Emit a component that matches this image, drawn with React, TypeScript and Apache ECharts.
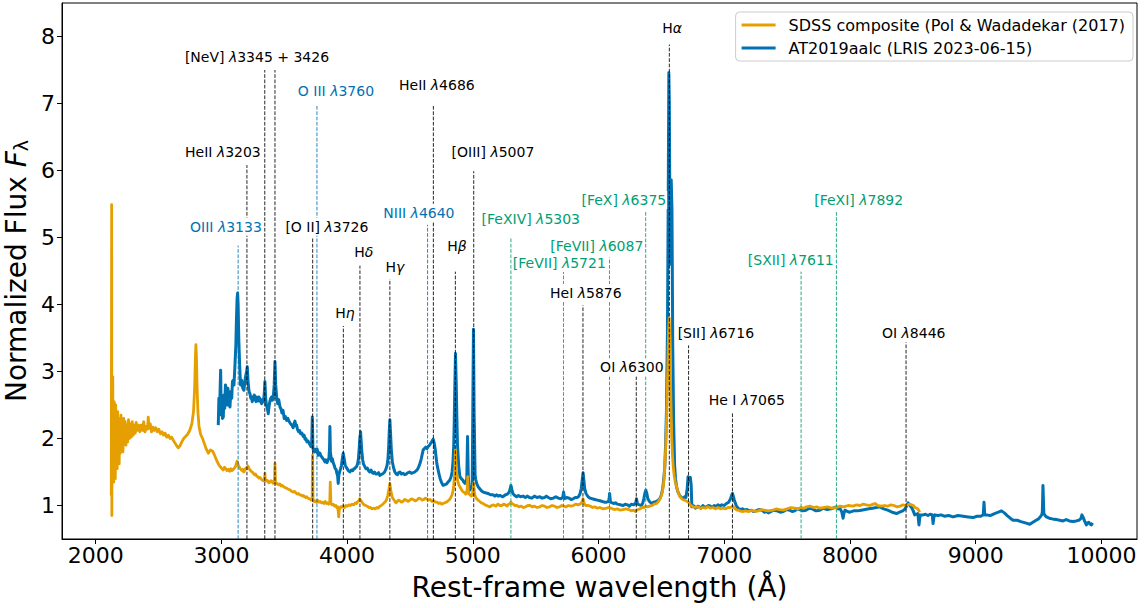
import { useEffect, useRef } from "react";
import * as echarts from "echarts";

const FONT = "DejaVu Sans";

// Axis ranges and tick values
const X_MIN = 1732;
const X_MAX = 10283;
const Y_MIN = 0.5;
const Y_MAX = 8.5;
const xTicks = [2000, 3000, 4000, 5000, 6000, 7000, 8000, 9000, 10000];
const yTicks = [1, 2, 3, 4, 5, 6, 7, 8];

// SDSS quasar composite, [rest-frame wavelength (Å), normalized flux]
const sdssComposite: [number, number][] = [
  [2124, 1.15], [2127, 5.49], [2128.5, 0.85], [2131, 2.6], [2134, 1.7], [2136, 2.92], [2138, 1.45], [2141, 2.45],
  [2144, 1.35], [2147, 2.55], [2150, 1.5], [2153, 2.3], [2156, 1.4], [2159, 2.5], [2163, 1.62], [2167, 2.35],
  [2171, 1.55], [2175, 2.4], [2179, 1.7], [2183, 2.3], [2187, 1.62], [2191, 2.28], [2196, 1.78], [2201, 2.35],
  [2206, 1.85], [2211, 2.22], [2217, 1.8], [2223, 2.3], [2229, 1.92], [2235, 2.25], [2241, 1.9], [2247, 2.2],
  [2254, 1.95], [2261, 2.28], [2268, 2.0], [2275, 2.22], [2283, 2.02], [2291, 2.25], [2299, 2.05], [2307, 2.2],
  [2315, 2.08], [2322, 2.24], [2330, 2.12], [2340, 2.2], [2350, 2.1], [2360, 2.2], [2372, 2.12], [2382, 2.25],
  [2392, 2.1], [2404, 2.18], [2412, 2.14], [2418, 2.32], [2424, 2.15], [2434, 2.22], [2444, 2.1], [2455, 2.17],
  [2466, 2.12], [2478, 2.16], [2490, 2.1], [2502, 2.14], [2515, 2.07], [2528, 2.1], [2540, 2.05], [2552, 2.08],
  [2565, 2.02], [2578, 2.05], [2591, 2.0], [2604, 2.02], [2618, 1.97], [2632, 1.93], [2645, 1.89], [2657, 1.86],
  [2670, 1.89], [2685, 1.95], [2700, 2.0], [2715, 2.03], [2730, 2.06], [2748, 2.12], [2765, 2.22], [2778, 2.4],
  [2787, 2.75], [2793, 3.2], [2797, 3.4], [2801, 3.25], [2806, 2.8], [2813, 2.4], [2822, 2.18], [2835, 2.06],
  [2850, 2.0], [2865, 1.92], [2880, 1.84], [2896, 1.78], [2912, 1.83], [2930, 1.81], [2948, 1.74], [2965, 1.66],
  [2982, 1.6], [3000, 1.56], [3015, 1.53], [3025, 1.57], [3035, 1.55], [3045, 1.52], [3055, 1.54], [3065, 1.51],
  [3075, 1.55], [3085, 1.52], [3095, 1.54], [3104, 1.56], [3112, 1.58], [3124, 1.66], [3135, 1.6], [3143, 1.57],
  [3150, 1.55], [3158, 1.53], [3165, 1.52], [3172, 1.54], [3178, 1.5], [3187, 1.53], [3195, 1.56], [3204, 1.55],
  [3212, 1.59], [3220, 1.55], [3228, 1.53], [3237, 1.51], [3245, 1.5], [3254, 1.48], [3262, 1.46], [3271, 1.47],
  [3280, 1.44], [3289, 1.43], [3298, 1.41], [3306, 1.42], [3315, 1.4], [3324, 1.38], [3334, 1.37], [3342, 1.38],
  [3346, 1.48], [3350, 1.36], [3359, 1.38], [3368, 1.37], [3376, 1.34], [3385, 1.35], [3394, 1.37], [3402, 1.36],
  [3410, 1.33], [3418, 1.34], [3423, 1.4], [3426, 1.63], [3430, 1.35], [3437, 1.32], [3445, 1.33], [3455, 1.31],
  [3465, 1.32], [3475, 1.29], [3485, 1.3], [3495, 1.28], [3505, 1.27], [3515, 1.26], [3525, 1.25], [3537, 1.24],
  [3548, 1.23], [3560, 1.21], [3571, 1.2], [3582, 1.21], [3592, 1.19], [3602, 1.17], [3612, 1.18], [3622, 1.16],
  [3632, 1.16], [3642, 1.14], [3652, 1.15], [3661, 1.13], [3670, 1.12], [3679, 1.13], [3688, 1.11], [3697, 1.1],
  [3706, 1.1], [3714, 1.08], [3722, 1.09], [3725, 1.75], [3729, 1.08], [3737, 1.06], [3745, 1.07], [3755, 1.05],
  [3765, 1.08], [3775, 1.05], [3785, 1.06], [3795, 1.04], [3805, 1.05], [3815, 1.03], [3825, 1.06], [3835, 1.03],
  [3845, 1.04], [3853, 1.02], [3862, 1.05], [3866, 1.35], [3871, 1.03], [3880, 1.01], [3890, 1.02], [3900, 0.99],
  [3910, 1.0], [3918, 0.97], [3925, 0.98], [3930, 0.9], [3933, 0.83], [3937, 0.92], [3940, 0.96], [3948, 0.98],
  [3955, 0.97], [3962, 0.99], [3970, 0.99], [3980, 0.97], [3990, 1.0], [4002, 0.99], [4015, 1.01], [4027, 1.0],
  [4040, 1.02], [4052, 1.01], [4065, 1.04], [4075, 1.03], [4085, 1.06], [4094, 1.07], [4100, 1.1], [4107, 1.08],
  [4115, 1.06], [4125, 1.03], [4135, 1.01], [4148, 1.0], [4160, 0.99], [4172, 0.97], [4185, 0.97], [4196, 0.95],
  [4208, 0.96], [4222, 0.95], [4235, 0.97], [4248, 0.96], [4260, 0.99], [4272, 1.0], [4285, 1.02], [4295, 1.04],
  [4305, 1.06], [4314, 1.09], [4322, 1.14], [4333, 1.25], [4340, 1.33], [4348, 1.22], [4360, 1.12], [4370, 1.09],
  [4378, 1.07], [4387, 1.04], [4395, 1.05], [4408, 1.08], [4420, 1.07], [4432, 1.05], [4445, 1.06], [4458, 1.09],
  [4470, 1.08], [4485, 1.06], [4499, 1.08], [4512, 1.1], [4525, 1.09], [4540, 1.07], [4555, 1.08], [4570, 1.11],
  [4585, 1.1], [4597, 1.08], [4610, 1.09], [4620, 1.11], [4632, 1.1], [4646, 1.08], [4660, 1.09], [4675, 1.06],
  [4690, 1.07], [4702, 1.05], [4715, 1.05], [4728, 1.03], [4740, 1.04], [4752, 1.02], [4764, 1.03], [4777, 1.04],
  [4790, 1.05], [4803, 1.07], [4815, 1.09], [4825, 1.12], [4835, 1.16], [4842, 1.22], [4848, 1.3], [4856, 1.5],
  [4862, 1.83], [4868, 1.55], [4878, 1.38], [4888, 1.31], [4897, 1.28], [4906, 1.25], [4915, 1.22], [4925, 1.2],
  [4935, 1.19], [4943, 1.17], [4950, 1.18], [4955, 1.25], [4959, 1.43], [4963, 1.22], [4970, 1.17], [4978, 1.16],
  [4987, 1.14], [4995, 1.15], [5003, 1.25], [5007, 1.33], [5012, 1.2], [5020, 1.13], [5030, 1.1], [5042, 1.08],
  [5055, 1.06], [5068, 1.04], [5082, 1.03], [5096, 1.01], [5110, 1.0], [5122, 0.99], [5135, 0.98], [5150, 1.0],
  [5165, 1.01], [5182, 0.99], [5200, 1.02], [5215, 1.0], [5230, 1.0], [5245, 1.02], [5260, 1.01], [5272, 0.99],
  [5285, 1.02], [5295, 1.03], [5303, 1.05], [5311, 1.03], [5320, 1.02], [5335, 1.0], [5350, 1.0], [5367, 0.98],
  [5385, 0.99], [5402, 0.97], [5420, 0.98], [5437, 1.0], [5455, 1.0], [5472, 0.98], [5490, 0.99], [5511, 0.97],
  [5533, 0.98], [5552, 1.0], [5570, 0.99], [5590, 0.97], [5610, 0.98], [5630, 1.0], [5650, 0.99], [5670, 0.97],
  [5690, 0.98], [5707, 1.0], [5724, 0.99], [5742, 0.98], [5760, 1.0], [5780, 0.99], [5800, 1.0], [5818, 1.02],
  [5835, 1.01], [5850, 1.02], [5860, 1.03], [5870, 1.06], [5877, 1.1], [5884, 1.04], [5892, 1.01], [5900, 1.0],
  [5918, 1.0], [5935, 0.99], [5952, 0.97], [5970, 0.98], [5990, 0.96], [6010, 0.97], [6036, 0.95], [6063, 0.96],
  [6082, 0.97], [6100, 0.96], [6125, 0.94], [6150, 0.95], [6172, 0.93], [6195, 0.94], [6218, 0.95], [6240, 0.94],
  [6260, 0.92], [6280, 0.93], [6292, 0.91], [6302, 0.93], [6316, 0.94], [6330, 0.95], [6345, 0.97], [6360, 0.97],
  [6375, 0.99], [6390, 0.98], [6408, 0.99], [6425, 1.0], [6443, 1.02], [6461, 1.03], [6476, 1.06], [6490, 1.1],
  [6502, 1.16], [6512, 1.25], [6520, 1.38], [6527, 1.58], [6534, 1.85], [6540, 2.2], [6550, 3.0], [6557, 3.6],
  [6562, 3.8], [6567, 3.5], [6574, 2.7], [6582, 2.0], [6588, 1.75], [6594, 1.58], [6602, 1.44], [6610, 1.35],
  [6625, 1.25], [6636, 1.18], [6647, 1.13], [6658, 1.11], [6670, 1.09], [6683, 1.08], [6695, 1.07], [6706, 1.06],
  [6716, 1.05], [6725, 1.02], [6735, 1.0], [6744, 0.99], [6752, 0.98], [6770, 0.97], [6790, 0.98], [6810, 0.96],
  [6830, 0.97], [6850, 0.96], [6870, 0.98], [6890, 0.96], [6910, 0.97], [6930, 0.95], [6950, 0.97], [6970, 0.95],
  [6990, 0.96], [7010, 0.95], [7030, 0.97], [7048, 0.97], [7060, 0.98], [7068, 0.99], [7075, 0.97], [7088, 0.95],
  [7100, 0.93], [7112, 0.93], [7123, 0.92], [7145, 0.91], [7170, 0.92], [7195, 0.91], [7220, 0.93], [7245, 0.91],
  [7270, 0.92], [7295, 0.94], [7320, 0.93], [7350, 0.92], [7388, 0.93], [7415, 0.95], [7440, 0.94], [7470, 0.93],
  [7500, 0.95], [7530, 0.97], [7560, 0.96], [7585, 0.95], [7610, 0.97], [7632, 0.96], [7654, 0.98], [7682, 0.99],
  [7710, 0.97], [7735, 0.98], [7760, 0.96], [7790, 0.97], [7820, 0.98], [7855, 0.96], [7893, 0.97], [7920, 0.99],
  [7950, 0.98], [7985, 1.0], [8025, 0.99], [8052, 1.01], [8080, 1.0], [8105, 1.02], [8130, 1.01], [8157, 1.0],
  [8184, 1.02], [8202, 1.03], [8220, 1.0], [8250, 0.99], [8275, 1.0], [8300, 0.99], [8325, 1.01], [8350, 1.0],
  [8375, 0.98], [8400, 0.99], [8420, 1.01], [8440, 1.0], [8458, 1.01], [8475, 1.02], [8490, 1.01], [8505, 1.0],
  [8518, 0.97], [8530, 0.96], [8543, 0.94], [8555, 0.9],
];

// AT2019aalc, LRIS spectrum of 2023-06-15, [rest-frame wavelength (Å), normalized flux]
const at2019aalc: [number, number][] = [
  [2975, 2.2], [2980, 2.6], [2985, 2.35], [2990, 2.75], [2994, 3.02], [2998, 2.4], [3003, 2.6], [3008, 2.3],
  [3015, 2.32], [3020, 2.65], [3026, 2.45], [3032, 2.8], [3041, 2.72], [3047, 2.5], [3052, 2.75], [3058, 2.55],
  [3068, 2.47], [3075, 2.7], [3082, 2.6], [3088, 2.85], [3094, 2.87], [3100, 2.8], [3108, 3.1], [3115, 3.4],
  [3120, 3.8], [3125, 4.1], [3129, 4.17], [3133, 4.0], [3138, 3.5], [3145, 3.1], [3152, 2.8], [3161, 2.87],
  [3170, 2.75], [3179, 2.72], [3190, 2.9], [3200, 3.0], [3206, 3.07], [3212, 2.85], [3220, 2.7], [3227, 2.67],
  [3234, 2.6], [3240, 2.62], [3245, 2.55], [3250, 2.58], [3256, 2.63], [3262, 2.65], [3270, 2.58], [3275, 2.55],
  [3280, 2.62], [3286, 2.6], [3292, 2.56], [3298, 2.62], [3305, 2.6], [3312, 2.55], [3320, 2.52], [3328, 2.58],
  [3335, 2.55], [3342, 2.7], [3346, 2.85], [3352, 2.6], [3358, 2.5], [3365, 2.45], [3373, 2.37], [3379, 2.48],
  [3385, 2.55], [3392, 2.6], [3400, 2.62], [3406, 2.57], [3412, 2.6], [3420, 2.8], [3426, 3.15], [3432, 2.8],
  [3440, 2.6], [3448, 2.52], [3456, 2.58], [3466, 2.47], [3474, 2.44], [3482, 2.38], [3490, 2.42], [3500, 2.3],
  [3508, 2.33], [3519, 2.27], [3528, 2.3], [3540, 2.25], [3550, 2.22], [3560, 2.2], [3571, 2.16], [3578, 2.22],
  [3585, 2.26], [3592, 2.19], [3598, 2.2], [3606, 2.13], [3615, 2.1], [3622, 2.12], [3630, 2.07], [3640, 2.08],
  [3651, 2.03], [3658, 2.05], [3665, 1.99], [3672, 2.0], [3680, 1.95], [3690, 1.96], [3700, 1.92], [3707, 1.9],
  [3712, 1.88], [3718, 1.9], [3723, 2.32], [3728, 1.85], [3735, 1.82], [3740, 1.8], [3748, 1.84], [3755, 1.8],
  [3762, 1.84], [3770, 1.75], [3777, 1.79], [3784, 1.78], [3792, 1.74], [3800, 1.72], [3808, 1.7], [3815, 1.68],
  [3823, 1.65], [3832, 1.68], [3840, 1.64], [3848, 1.68], [3855, 1.7], [3860, 1.85], [3863, 2.18], [3867, 1.8],
  [3870, 1.75], [3876, 1.66], [3882, 1.7], [3889, 1.64], [3897, 1.6], [3905, 1.55], [3912, 1.54], [3918, 1.48],
  [3924, 1.45], [3929, 1.33], [3934, 1.45], [3940, 1.5], [3948, 1.55], [3955, 1.6], [3962, 1.7], [3969, 1.78],
  [3976, 1.7], [3985, 1.6], [3993, 1.57], [4000, 1.55], [4010, 1.52], [4022, 1.5], [4033, 1.53], [4045, 1.52],
  [4053, 1.55], [4060, 1.55], [4068, 1.57], [4075, 1.58], [4083, 1.62], [4090, 1.7], [4096, 1.85], [4100, 1.98],
  [4107, 2.1], [4112, 1.95], [4118, 1.78], [4124, 1.68], [4130, 1.62], [4141, 1.58], [4150, 1.55], [4160, 1.56],
  [4170, 1.52], [4180, 1.5], [4190, 1.53], [4200, 1.49], [4208, 1.48], [4218, 1.5], [4228, 1.47], [4240, 1.47],
  [4250, 1.49], [4260, 1.45], [4270, 1.46], [4280, 1.47], [4287, 1.48], [4298, 1.5], [4310, 1.55], [4318, 1.6],
  [4325, 1.7], [4331, 1.9], [4335, 2.1], [4340, 2.28], [4346, 2.05], [4352, 1.82], [4360, 1.65], [4370, 1.56],
  [4380, 1.5], [4390, 1.47], [4400, 1.46], [4410, 1.49], [4420, 1.5], [4432, 1.47], [4446, 1.48], [4458, 1.46],
  [4470, 1.47], [4484, 1.49], [4500, 1.5], [4512, 1.48], [4526, 1.49], [4538, 1.5], [4550, 1.52], [4560, 1.54],
  [4570, 1.58], [4580, 1.63], [4590, 1.7], [4598, 1.77], [4605, 1.83], [4615, 1.85], [4625, 1.87], [4635, 1.85],
  [4645, 1.88], [4655, 1.9], [4665, 1.93], [4675, 1.96], [4685, 1.99], [4693, 1.93], [4700, 1.85], [4706, 1.75],
  [4712, 1.65], [4718, 1.58], [4724, 1.53], [4732, 1.46], [4740, 1.4], [4752, 1.34], [4764, 1.3], [4777, 1.31],
  [4790, 1.32], [4803, 1.35], [4817, 1.38], [4827, 1.43], [4835, 1.5], [4842, 1.65], [4848, 1.9], [4852, 2.25],
  [4856, 2.7], [4862, 3.27], [4868, 2.8], [4873, 2.3], [4878, 1.9], [4887, 1.6], [4897, 1.43], [4908, 1.4],
  [4920, 1.38], [4928, 1.35], [4937, 1.33], [4946, 1.36], [4952, 1.4], [4958, 2.03], [4964, 1.4], [4970, 1.28],
  [4977, 1.23], [4986, 1.26], [4995, 1.3], [5000, 2.5], [5005, 3.63], [5010, 2.4], [5018, 1.45], [5024, 1.38],
  [5030, 1.33], [5042, 1.28], [5055, 1.25], [5068, 1.22], [5082, 1.2], [5100, 1.19], [5120, 1.18], [5140, 1.16],
  [5160, 1.16], [5175, 1.14], [5190, 1.16], [5202, 1.14], [5215, 1.15], [5238, 1.13], [5260, 1.16], [5276, 1.17],
  [5290, 1.2], [5297, 1.25], [5303, 1.3], [5310, 1.24], [5318, 1.18], [5333, 1.15], [5348, 1.13], [5362, 1.15],
  [5380, 1.13], [5400, 1.14], [5418, 1.12], [5435, 1.14], [5450, 1.12], [5470, 1.11], [5490, 1.14], [5510, 1.12],
  [5533, 1.13], [5551, 1.11], [5570, 1.12], [5585, 1.14], [5600, 1.12], [5620, 1.1], [5640, 1.11], [5660, 1.13],
  [5680, 1.11], [5700, 1.1], [5715, 1.12], [5722, 1.2], [5730, 1.1], [5748, 1.12], [5765, 1.11], [5782, 1.09],
  [5798, 1.1], [5815, 1.12], [5830, 1.12], [5840, 1.13], [5852, 1.17], [5862, 1.25], [5870, 1.38], [5877, 1.49],
  [5884, 1.36], [5890, 1.25], [5900, 1.18], [5917, 1.13], [5933, 1.11], [5950, 1.1], [5970, 1.09], [5990, 1.08],
  [6010, 1.07], [6030, 1.06], [6047, 1.05], [6063, 1.05], [6080, 1.06], [6085, 1.12], [6088, 1.18], [6092, 1.1],
  [6095, 1.05], [6108, 1.04], [6120, 1.03], [6135, 1.04], [6150, 1.02], [6172, 1.01], [6196, 1.0], [6212, 1.02],
  [6230, 1.01], [6245, 0.99], [6260, 1.02], [6280, 1.01], [6296, 1.04], [6302, 1.1], [6310, 1.02], [6326, 1.01],
  [6342, 1.0], [6352, 1.04], [6360, 1.1], [6368, 1.18], [6376, 1.23], [6384, 1.18], [6392, 1.1], [6405, 1.06],
  [6421, 1.03], [6440, 1.05], [6460, 1.06], [6475, 1.08], [6487, 1.1], [6500, 1.16], [6510, 1.25], [6518, 1.38],
  [6527, 1.58], [6534, 1.95], [6540, 2.4], [6548, 3.6], [6554, 5.5], [6559, 7.46], [6563, 7.0], [6568, 5.2],
  [6573, 4.6], [6578, 5.86], [6584, 5.4], [6590, 3.4], [6597, 2.27], [6605, 1.6], [6612, 1.4], [6620, 1.28],
  [6632, 1.2], [6645, 1.15], [6660, 1.12], [6673, 1.1], [6684, 1.13], [6695, 1.12], [6705, 1.25], [6712, 1.43],
  [6720, 1.4], [6730, 1.42], [6737, 1.3], [6742, 0.98], [6750, 1.0], [6760, 0.99], [6770, 0.96], [6780, 0.97],
  [6790, 0.99], [6800, 0.98], [6815, 0.96], [6830, 1.0], [6845, 0.97], [6858, 0.98], [6875, 1.0], [6890, 0.99],
  [6905, 0.97], [6920, 1.0], [6935, 0.98], [6950, 1.01], [6965, 0.99], [6980, 1.01], [7000, 1.0], [7018, 1.03],
  [7035, 1.05], [7050, 1.1], [7058, 1.15], [7065, 1.18], [7072, 1.14], [7080, 1.08], [7095, 1.0], [7110, 0.96],
  [7128, 0.94], [7145, 0.95], [7162, 0.93], [7180, 0.94], [7198, 0.92], [7215, 0.93], [7232, 0.91], [7250, 0.92],
  [7275, 0.94], [7300, 0.93], [7318, 0.9], [7335, 0.91], [7350, 0.89], [7362, 0.9], [7390, 0.93], [7420, 0.92],
  [7445, 0.9], [7470, 0.91], [7495, 0.94], [7521, 0.93], [7540, 0.91], [7560, 0.92], [7580, 0.95], [7600, 0.94],
  [7625, 0.92], [7650, 0.93], [7675, 0.96], [7700, 0.95], [7730, 0.92], [7760, 0.93], [7786, 0.96], [7818, 0.94],
  [7850, 0.95], [7875, 0.97], [7893, 0.98], [7908, 0.95], [7920, 0.96], [7935, 0.9], [7945, 0.81], [7952, 0.88],
  [7960, 0.93], [7980, 0.91], [7998, 0.9], [8030, 0.92], [8060, 0.92], [8090, 0.93], [8120, 0.94], [8150, 0.95],
  [8180, 0.96], [8210, 0.97], [8237, 0.98], [8268, 0.95], [8300, 0.93], [8335, 0.9], [8370, 0.88], [8395, 0.9],
  [8420, 0.92], [8438, 0.95], [8450, 0.99], [8462, 1.04], [8476, 1.0], [8490, 0.97], [8503, 0.92], [8515, 0.86],
  [8530, 0.87], [8540, 0.88], [8545, 0.78], [8549, 0.71], [8554, 0.8], [8560, 0.86], [8582, 0.86], [8600, 0.87],
  [8620, 0.85], [8638, 0.87], [8655, 0.86], [8658, 0.79], [8661, 0.73], [8667, 0.82], [8674, 0.86], [8700, 0.85],
  [8725, 0.86], [8750, 0.84], [8785, 0.85], [8820, 0.83], [8860, 0.85], [8900, 0.84], [8940, 0.83], [8979, 0.82],
  [9010, 0.84], [9040, 0.84], [9060, 0.86], [9066, 1.05], [9072, 0.86], [9085, 0.86], [9115, 0.85], [9150, 0.88],
  [9180, 0.9], [9205, 0.92], [9228, 0.89], [9250, 0.85], [9275, 0.81], [9297, 0.78], [9330, 0.78], [9360, 0.76],
  [9395, 0.74], [9430, 0.72], [9455, 0.75], [9480, 0.78], [9500, 0.8], [9509, 0.82], [9525, 0.86], [9530, 0.9],
  [9535, 1.3], [9542, 0.88], [9552, 0.85], [9562, 0.83], [9585, 0.81], [9610, 0.8], [9640, 0.79], [9668, 0.78],
  [9695, 0.77], [9720, 0.79], [9745, 0.77], [9774, 0.76], [9800, 0.77], [9820, 0.78], [9835, 0.8], [9845, 0.86],
  [9853, 0.83], [9866, 0.77], [9880, 0.71], [9890, 0.74], [9900, 0.75], [9910, 0.72], [9920, 0.71], [9930, 0.74],
];

// Emission-line markers: rest wavelength (Å), top of the dashed marker (flux units), colour group
const lineWave = [3133, 3203, 3345, 3426, 3726, 3760, 3970, 4102, 4340, 4640, 4686, 4861, 5007, 5303, 5721, 5876, 6087, 6300, 6375, 6563, 6716, 7065, 7611, 7892, 8446];
const lineTop = [4.88, 6.08, 7.5, 7.5, 5.0, 6.98, 3.68, 4.58, 4.38, 5.19, 6.98, 4.49, 5.99, 4.99, 4.49, 3.99, 4.7, 2.94, 5.39, 7.88, 3.39, 2.39, 4.49, 5.39, 3.44];
const lineGroup = ["b", "k", "k", "k", "k", "b", "k", "k", "k", "b", "k", "k", "k", "g", "g", "k", "g", "k", "g", "k", "k", "k", "g", "g", "k"];

// Line identifications: text, anchor (Å, flux), colour group
const labelText = [
  "OIII {i|λ}3133", "HeII {i|λ}3203", "[NeV] {i|λ}3345 + 3426", "O III {i|λ}3760", "[O II] {i|λ}3726",
  "H{i|η}", "H{i|δ}", "H{i|γ}", "NIII {i|λ}4640", "HeII {i|λ}4686", "H{i|β}", "[OIII] {i|λ}5007",
  "[FeXIV] {i|λ}5303", "[FeVII] {i|λ}5721", "HeI {i|λ}5876", "[FeVII] {i|λ}6087", "OI {i|λ}6300",
  "[FeX] {i|λ}6375", "H{i|α}", "[SII] {i|λ}6716", "He I {i|λ}7065", "[SXII] {i|λ}7611", "[FeXI] {i|λ}7892", "OI {i|λ}8446",
];
const labelX = [3036, 3012, 3283, 3911, 3839, 3982, 4133, 4380, 4571, 4714, 4873, 5160, 5461, 5688, 5899, 5986, 6265, 6201, 6585, 6933, 7179, 7529, 8069, 8507];
const labelY = [5.16, 6.27, 7.69, 7.18, 5.16, 3.87, 4.79, 4.56, 5.37, 7.28, 4.87, 6.27, 5.28, 4.62, 4.17, 4.87, 3.06, 5.56, 8.13, 3.57, 2.57, 4.67, 5.56, 3.57];
const labelGroup = ["b", "k", "k", "b", "k", "k", "k", "k", "b", "k", "k", "k", "g", "g", "k", "g", "k", "g", "k", "k", "k", "g", "g", "k"];

const SERIES_SDSS = "SDSS composite (Pol & Wadadekar (2017)";
const SERIES_AT = "AT2019aalc (LRIS 2023-06-15)";

const groupColor: Record<string, string> = { k: "#000000", b: "#0072B2", g: "#009E73" };
const ORANGE = "#E69F00";
const BLUE = "#0072B2";

export default function App() {
  const ref = useRef<HTMLDivElement>(null);

  useEffect(() => {
    if (!ref.current) return;
    const chart = echarts.init(ref.current, null, { renderer: "svg" });

    const option: any = {
      animation: false,
      textStyle: { fontFamily: FONT },
      grid: {
        left: 62,
        right: 8,
        top: 3,
        bottom: 69,
        containLabel: false,
        outerBoundsMode: "none",
        show: true,
        borderColor: "#000",
        borderWidth: 1,
        backgroundColor: "transparent",
      },
      legend: {
        data: [SERIES_SDSS, SERIES_AT],
        orient: "vertical",
        right: 12,
        top: 12,
        padding: [5, 8, 5, 6],
        itemGap: 7,
        itemWidth: 34,
        itemHeight: 3,
        icon: "rect",
        borderColor: "#cccccc",
        borderWidth: 1,
        borderRadius: 4,
        backgroundColor: "rgba(255,255,255,0.8)",
        textStyle: { fontFamily: FONT, fontSize: 16, color: "#000", padding: [0, 0, 0, 8] },
      },
      xAxis: {
        type: "value",
        min: X_MIN,
        max: X_MAX,
        name: "Rest-frame wavelength (Å)",
        nameLocation: "middle",
        nameGap: 34,
        nameTextStyle: { fontFamily: FONT, fontSize: 28, color: "#000" },
        axisLine: { show: true, lineStyle: { color: "#000", width: 1 } },
        axisTick: { show: true, length: 5, lineStyle: { color: "#000", width: 1 }, customValues: xTicks },
        axisLabel: {
          fontFamily: FONT,
          fontSize: 22,
          color: "#000",
          margin: 5,
          customValues: xTicks,
          formatter: (v: number) => String(v),
        },
        splitLine: { show: false },
      },
      yAxis: {
        type: "value",
        min: Y_MIN,
        max: Y_MAX,
        name: "Normalized Flux {f|F}{s|λ}",
        nameLocation: "middle",
        nameGap: 18,
        nameTextStyle: {
          fontFamily: FONT,
          fontSize: 28,
          color: "#000",
          rich: {
            f: { fontFamily: FONT, fontSize: 28, fontStyle: "italic", color: "#000" },
            s: { fontFamily: FONT, fontSize: 19, color: "#000", verticalAlign: "bottom" },
          },
        },
        axisLine: { show: true, lineStyle: { color: "#000", width: 1 } },
        axisTick: { show: true, length: 5, lineStyle: { color: "#000", width: 1 }, customValues: yTicks },
        axisLabel: {
          fontFamily: FONT,
          fontSize: 22,
          color: "#000",
          margin: 7,
          customValues: yTicks,
          formatter: (v: number) => String(v),
        },
        splitLine: { show: false },
      },
      series: [
        {
          name: SERIES_AT,
          type: "line",
          data: at2019aalc,
          showSymbol: false,
          symbol: "none",
          color: BLUE,
          lineStyle: { color: BLUE, width: 3, join: "round" },
          z: 2,
          silent: true,
        },
        {
          name: SERIES_SDSS,
          type: "line",
          data: sdssComposite,
          showSymbol: false,
          symbol: "none",
          color: ORANGE,
          lineStyle: { color: ORANGE, width: 2.8, join: "round" },
          z: 2,
          silent: true,
        },
        {
          name: "line markers",
          type: "custom",
          z: 3,
          silent: true,
          data: lineWave.map((w, i) => [w, lineTop[i], i]),
          encode: { x: 0, y: 1 },
          renderItem: (_params: any, api: any) => {
            const i = api.value(2);
            const w = api.value(0);
            const p0 = api.coord([w, Y_MIN]);
            const p1 = api.coord([w, api.value(1)]);
            return {
              type: "line",
              shape: { x1: p0[0], y1: p0[1], x2: p1[0], y2: p1[1] },
              style: { stroke: groupColor[lineGroup[i]], lineWidth: 1, lineDash: [3.7, 1.6], opacity: 0.85 },
            };
          },
        },
        {
          name: "line labels",
          type: "custom",
          z: 4,
          silent: true,
          data: labelX.map((x, i) => [x, labelY[i], i]),
          encode: { x: 0, y: 1 },
          renderItem: (_params: any, api: any) => {
            const i = api.value(2);
            const p = api.coord([api.value(0), api.value(1)]);
            const c = groupColor[labelGroup[i]];
            return {
              type: "text",
              x: p[0],
              y: p[1],
              style: {
                text: labelText[i],
                fill: c,
                fontSize: 14,
                fontFamily: FONT,
                align: "center",
                verticalAlign: "middle",
                backgroundColor: "#ffffff",
                padding: [2, 1],
                rich: {
                  i: { fill: c, color: c, fontSize: 14, fontFamily: FONT, fontStyle: "italic" },
                },
              },
            };
          },
        },
      ],
    };

    chart.setOption(option);
    return () => chart.dispose();
  }, []);

  return (
    <div
      ref={ref}
      style={{ position: "fixed", left: 0, top: 0, width: 1145, height: 608, background: "#fff" }}
    />
  );
}
